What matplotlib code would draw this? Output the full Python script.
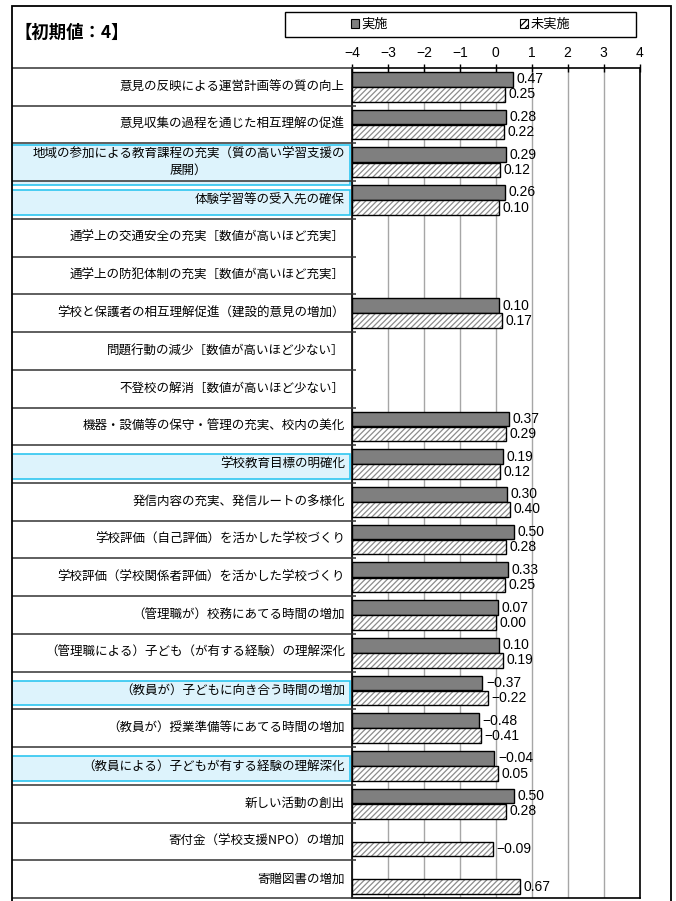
import matplotlib.pyplot as plt
from matplotlib.patches import Rectangle, Patch

plt.rcParams['font.family'] = ['Noto Sans CJK JP', 'DejaVu Sans']
plt.rcParams['hatch.linewidth'] = 0.9

categories = [
    '意見の反映による運営計画等の質の向上',
    '意見収集の過程を通じた相互理解の促進',
    '地域の参加による教育課程の充実（質の高い学習支援の\n展開）',
    '体験学習等の受入先の確保',
    '通学上の交通安全の充実［数値が高いほど充実］',
    '通学上の防犯体制の充実［数値が高いほど充実］',
    '学校と保護者の相互理解促進（建設的意見の増加）',
    '問題行動の減少［数値が高いほど少ない］',
    '不登校の解消［数値が高いほど少ない］',
    '機器・設備等の保守・管理の充実、校内の美化',
    '学校教育目標の明確化',
    '発信内容の充実、発信ルートの多様化',
    '学校評価（自己評価）を活かした学校づくり',
    '学校評価（学校関係者評価）を活かした学校づくり',
    '（管理職が）校務にあてる時間の増加',
    '（管理職による）子ども（が有する経験）の理解深化',
    '（教員が）子どもに向き合う時間の増加',
    '（教員が）授業準備等にあてる時間の増加',
    '（教員による）子どもが有する経験の理解深化',
    '新しい活動の創出',
    '寄付金（学校支援NPO）の増加',
    '寄贈図書の増加',
]
implemented = [0.47, 0.28, 0.29, 0.26, None, None, 0.10, None, None, 0.37, 0.19,
               0.30, 0.50, 0.33, 0.07, 0.10, -0.37, -0.48, -0.04, 0.50, None, None]
not_implemented = [0.25, 0.22, 0.12, 0.10, None, None, 0.17, None, None, 0.29, 0.12,
                   0.40, 0.28, 0.25, 0.00, 0.19, -0.22, -0.41, 0.05, 0.28, -0.09, 0.67]
highlighted = [2, 3, 10, 16, 18]
series_names = ['実施', '未実施']
title = '【初期値：4】'
xticks = [-4, -3, -2, -1, 0, 1, 2, 3, 4]

W, H = 676, 901
def fx(px):
    return px / W
def fy(py):
    return 1 - py / H

fig = plt.figure(figsize=(6.76, 9.01), dpi=100)
n = len(categories)
top, bottom = 68, 898

ax = fig.add_axes([fx(352), fy(bottom), fx(639.5) - fx(352), (bottom - top) / H])
lab = fig.add_axes([fx(12), fy(bottom), fx(352) - fx(12), (bottom - top) / H])

num_font = ['Liberation Sans Narrow', 'Liberation Sans', 'DejaVu Sans']

# bars start at the left edge of the axis (-4)
xmin = xticks[0]
for i in range(n):
    v1 = implemented[i]
    v2 = not_implemented[i]
    if v1 is not None:
        ax.barh(i - 0.2, v1 - xmin, left=xmin, height=0.39, color='#7f7f7f',
                edgecolor='black', linewidth=1, zorder=3)
        ax.text(v1 + 0.1, i - 0.2, f'{v1:.2f}'.replace('-', '−'), va='center',
                ha='left', fontsize=10, family=num_font, zorder=4)
    if v2 is not None:
        ax.barh(i + 0.2, v2 - xmin, left=xmin, height=0.39, color='white',
                edgecolor='#8c8c8c', hatch='//////', linewidth=0, zorder=3)
        ax.barh(i + 0.2, v2 - xmin, left=xmin, height=0.39, fill=False,
                edgecolor='black', linewidth=1, zorder=3)
        ax.text(v2 + 0.1, i + 0.2, f'{v2:.2f}'.replace('-', '−'), va='center',
                ha='left', fontsize=10, family=num_font, zorder=4)

ax.set_xlim(xticks[0], xticks[-1])
ax.set_ylim(n - 0.5, -0.5)
ax.set_xticks(xticks)
ax.set_xticklabels([str(t).replace('-', '−') for t in xticks], family=num_font, fontsize=10)
ax.xaxis.tick_top()
ax.tick_params(axis='x', direction='inout', length=6, width=1, pad=3)
ax.set_yticks([])
ax.grid(axis='x', color='#a6a6a6', linewidth=1, zorder=0)
for s in ax.spines.values():
    s.set_color('black')
    s.set_linewidth(1.2)

# category label panel
lab.set_xlim(0, 1)
lab.set_ylim(n - 0.5, -0.5)
lab.axis('off')
for r in highlighted:
    if '\n' in categories[r]:
        y0, y1 = r - 0.45, r + 0.6
    else:
        y0, y1 = r - 0.26, r + 0.39
    lab.add_patch(Rectangle((0.0, y0), 0.994, y1 - y0, facecolor='#ddf3fc',
                            edgecolor='#2ec6f0', linewidth=1.2, zorder=1))
for i, c in enumerate(categories):
    lab.text(0.979, i, c, ha='right', va='center', multialignment='center',
             fontsize=9, linespacing=1.25, zorder=2)
bounds = [i - 0.5 for i in range(n + 1)]
lab.hlines(bounds, 0, 1 + 4 / 340, color='#333333', linewidth=1.1,
           clip_on=False, zorder=3)

# title, legend and outer frame
fig.text(fx(14), fy(33), title, fontsize=12.5, fontweight='bold', va='center', ha='left')
fig.add_artist(Rectangle((fx(285), fy(37)), fx(636) - fx(285), (37 - 12) / H,
                         transform=fig.transFigure, fill=False, edgecolor='black',
                         linewidth=1))
handles = [Patch(facecolor='#7f7f7f', edgecolor='black', linewidth=0.8),
           Patch(facecolor='white', edgecolor='black', hatch='/////', linewidth=0.8)]
fig.legend(handles, series_names, loc='center', bbox_to_anchor=(fx(460.5), fy(24.5)),
           ncol=2, frameon=False, fontsize=9.5, handlelength=0.6, handleheight=0.6,
           handletextpad=0.2, columnspacing=10, borderpad=0)
fig.add_artist(Rectangle((fx(12), -0.02), fx(670.5) - fx(12), fy(5.5) + 0.02,
                         transform=fig.transFigure, fill=False, edgecolor='black',
                         linewidth=1.3))

fig.savefig('out.png', dpi=100)
